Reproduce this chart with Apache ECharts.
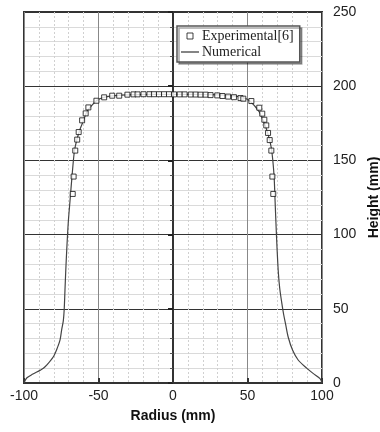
<!DOCTYPE html>
<html>
<head>
<meta charset="utf-8">
<script src="https://cdn.jsdelivr.net/npm/echarts@6/dist/echarts.min.js"></script>
<style>
  html, body { margin: 0; padding: 0; background: #fff; }
  #main { width: 380px; height: 432px; }
</style>
</head>
<body>
<div id="main"></div>
<script>
// measured points [radius, height] in mm
const experimental = [
  [-67.3, 127.4], [-66.7, 139.1], [-65.6, 156.6], [-64.3, 164.0], [-63.3, 169.1],
  [-61.0, 177.0], [-58.6, 181.7], [-56.8, 185.7], [-51.4, 190.2], [-46.2, 192.5],
  [-40.8, 193.6], [-36.1, 193.6], [-30.6, 194.3], [-26.5, 194.5], [-23.8, 194.5],
  [-19.8, 194.6], [-15.8, 194.6], [-12.8, 194.6], [-9.4, 194.6], [-6.0, 194.6],
  [-2.7, 194.6], [0.7, 194.5], [4.5, 194.5], [7.8, 194.5], [11.9, 194.4],
  [15.2, 194.4], [18.5, 194.3], [21.9, 194.3], [25.2, 194.0], [29.7, 193.8],
  [33.2, 193.4], [37.0, 193.0], [40.9, 192.6], [45.3, 192.0], [47.2, 191.6],
  [52.6, 190.0], [57.9, 185.5], [59.9, 181.5], [61.3, 177.4], [62.6, 173.6],
  [63.8, 168.5], [64.9, 163.7], [66.0, 156.6], [66.7, 139.1], [67.3, 127.4]
]

// simulated free surface profile [radius, height] in mm
const numerical = [
  [-100, 0], [-98.2, 3.4], [-94, 6], [-89.3, 8.5], [-87, 9.9], [-84.8, 12],
  [-80.3, 17.7], [-77.5, 24], [-75.8, 29], [-74.7, 36], [-73.6, 42],
  [-73, 50], [-72.5, 62.6], [-72, 75], [-71.3, 90], [-70.3, 108],
  [-69.1, 123], [-67.8, 139], [-66.2, 156], [-64.5, 164], [-62.4, 171],
  [-60, 177], [-57.9, 182.6], [-55, 186.5], [-51.2, 190.4], [-47, 192.3],
  [-42.3, 193.3], [-35, 194], [-25, 194.3], [0, 194.5], [25, 194.3],
  [35, 194], [42.3, 193.3], [47, 192.3], [51.2, 190.4], [55, 186.5],
  [57.9, 182.6], [60, 178], [62.4, 172], [64.5, 165], [66.2, 157],
  [67.8, 140], [68.5, 123], [69.5, 98], [70.6, 76], [71.6, 64],
  [73, 54], [74.3, 46], [75.6, 39.5], [77.3, 31], [80.3, 22], [84, 15.5],
  [89.7, 10], [94, 6.5], [98.7, 3], [100, 0]
]

const xTicks = [-100, -50, 0, 50, 100]
const yTicks = [0, 50, 100, 150, 200, 250]

const chart = echarts.init(document.getElementById('main'))

const option = {
  animation: false,
  backgroundColor: '#fff',
  grid: {
    left: 24,
    right: 58,
    top: 12,
    bottom: 49,
    outerBoundsMode: 'none',
    show: true,
    borderColor: '#333',
    borderWidth: 2
  },
  legend: {
    orient: 'vertical',
    left: 177,
    top: 26,
    padding: [3, 6, 3, 4],
    itemGap: 2,
    itemWidth: 18,
    itemHeight: 6,
    backgroundColor: '#fff',
    borderColor: '#555',
    borderWidth: 1.5,
    shadowColor: 'rgba(0,0,0,0.35)',
    shadowOffsetX: 2,
    shadowOffsetY: 2,
    shadowBlur: 0,
    textStyle: {
      fontFamily: 'Liberation Serif',
      fontSize: 14,
      color: '#222',
      padding: [0, 0, 0, -2]
    },
    data: [
      {
        name: 'Experimental[6]',
        icon: 'path://M0,0 h5 v5 h-5 Z',
        itemStyle: { color: '#fff', borderColor: '#111', borderWidth: 1 }
      },
      {
        name: 'Numerical',
        icon: 'path://M0,0 h24 v1.6 h-24 Z',
        itemStyle: { color: '#333', borderWidth: 0 }
      }
    ]
  },
  xAxis: {
    type: 'value',
    min: -100,
    max: 100,
    interval: 50,
    name: 'Radius (mm)',
    nameLocation: 'middle',
    nameGap: 26,
    nameTextStyle: { fontFamily: 'Liberation Sans', fontWeight: 'bold', fontSize: 14, color: '#111' },
    axisLine: { show: true, onZero: false, lineStyle: { color: '#333', width: 2 } },
    axisTick: { show: true, inside: true, length: 5, lineStyle: { color: '#333', width: 2 } },
    axisLabel: {
      fontFamily: 'Liberation Sans',
      fontSize: 14,
      color: '#222',
      margin: 6,
      formatter: v => (xTicks.includes(v) ? String(v) : '')
    },
    splitLine: { show: true, lineStyle: { color: '#888', width: 1 } },
    minorTick: { show: false, splitNumber: 5 },
    minorSplitLine: { show: true, lineStyle: { color: '#d0d0d0', type: [2, 2], width: 1 } }
  },
  yAxis: {
    type: 'value',
    position: 'right',
    min: 0,
    max: 250,
    interval: 50,
    name: 'Height (mm)',
    nameLocation: 'middle',
    nameRotate: 90,
    nameGap: 44,
    nameTextStyle: { fontFamily: 'Liberation Sans', fontWeight: 'bold', fontSize: 14, color: '#111' },
    axisLine: { show: true, lineStyle: { color: '#333', width: 2 } },
    axisTick: { show: true, inside: true, length: 5, lineStyle: { color: '#222', width: 2 } },
    minorTick: { show: true, splitNumber: 5, length: 3, lineStyle: { color: '#555', width: 1 } },
    axisLabel: {
      fontFamily: 'Liberation Sans',
      fontSize: 14,
      color: '#222',
      margin: 11,
      formatter: v => (yTicks.includes(v) ? String(v) : '')
    },
    splitLine: { show: true, lineStyle: { color: '#333', width: 1 } },
    minorSplitLine: { show: true, lineStyle: { color: '#dadada', width: 1 } }
  },
  series: [
    {
      name: 'Experimental[6]',
      type: 'scatter',
      data: experimental,
      symbol: 'rect',
      symbolSize: 5,
      z: 3,
      itemStyle: { color: '#fff', borderColor: '#111', borderWidth: 1 }
    },
    {
      name: 'Numerical',
      type: 'line',
      data: numerical,
      symbol: 'none',
      smooth: 0.3,
      z: 2,
      lineStyle: { color: '#444', width: 1.2 },
      itemStyle: { color: '#444' }
    }
  ]
}

chart.setOption(option)
</script>
</body>
</html>
